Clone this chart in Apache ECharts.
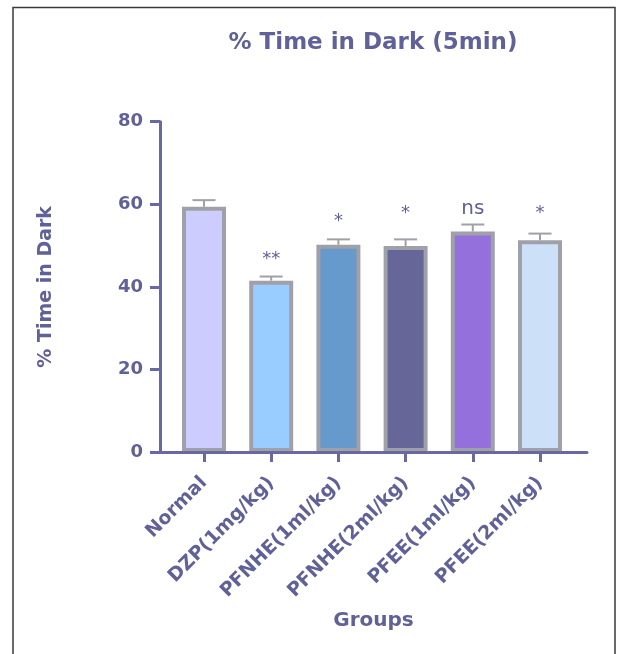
<!DOCTYPE html>
<html>
<head>
<meta charset="utf-8">
<script src="https://cdn.jsdelivr.net/npm/echarts@6/dist/echarts.min.js"></script>
<style>
html,body{margin:0;padding:0;background:#fff;}
#c{width:619px;height:654px;}
</style>
</head>
<body>
<div id="c"></div>
<script>
const categories = ['Normal', 'DZP(1mg/kg)', 'PFNHE(1ml/kg)', 'PFNHE(2ml/kg)', 'PFEE(1ml/kg)', 'PFEE(2ml/kg)'];
const means = [59.4, 41.5, 50.2, 49.9, 53.4, 51.3];
const sems = [1.6, 1.0, 1.3, 1.6, 1.7, 1.6];
const sigLabels = ['', '**', '*', '*', 'ns', '*'];
const sigHeights = [null, 47.8, 57.0, 58.9, 58.9, 58.9];
const barColors = ['#ccccff', '#99ccff', '#6699cc', '#666699', '#9370db', '#cce0f8'];
const yMin = 0, yMax = 80, yStep = 20;

const FONT = '"DejaVu Sans", sans-serif';
const TXT = '#616199';
const AX = '#6868a4';
const EDGE = '#a0a0a8';

const chart = echarts.init(document.getElementById('c'), null, {renderer: 'canvas'});

const gridTop = 121.7, gridBottom = 202;
const sigData = categories.map((c, i) => [i, sigHeights[i], sigLabels[i]]).filter(d => d[1] !== null);

const option = {
  backgroundColor: '#ffffff',
  animation: false,
  title: {
    text: '% Time in Dark (5min)',
    left: 368, top: 27, textAlign: 'center',
    textStyle: {fontFamily: FONT, fontSize: 23, fontWeight: 'bold', color: TXT}
  },
  graphic: [{
    type: 'rect', silent: true,
    shape: {x: 13, y: 7.5, width: 602, height: 700},
    style: {fill: 'none', stroke: '#3a3a3a', lineWidth: 1.5}
  }],
  grid: [
    {left: 170.4, right: 45.4, top: gridTop, bottom: gridBottom},
    {left: 160, right: 32, top: gridTop, bottom: gridBottom}
  ],
  xAxis: [
    {
      type: 'category', gridIndex: 0, data: categories,
      axisLine: {show: false},
      axisTick: {show: true, alignWithLabel: true, length: 10, lineStyle: {color: AX, width: 3}},
      axisLabel: {rotate: 45, margin: 28, fontFamily: FONT, fontSize: 19, fontWeight: 'bold', color: TXT, interval: 0},
      splitLine: {show: false}
    },
    {
      type: 'category', gridIndex: 1, data: [''], z: 10,
      axisLine: {show: true, onZero: false, lineStyle: {color: AX, width: 3}},
      axisTick: {show: false}, axisLabel: {show: false},
      name: 'Groups', nameLocation: 'middle', nameGap: 159,
      nameTextStyle: {fontFamily: FONT, fontSize: 20, fontWeight: 'bold', color: TXT}
    }
  ],
  yAxis: [
    {type: 'value', gridIndex: 0, min: yMin, max: yMax, interval: yStep, show: false},
    {
      type: 'value', gridIndex: 1, min: yMin, max: yMax, interval: yStep, z: 10,
      axisLine: {show: true, onZero: false, lineStyle: {color: AX, width: 3}},
      axisTick: {show: true, length: 10, lineStyle: {color: AX, width: 3}},
      axisLabel: {margin: 17, fontFamily: FONT, fontSize: 18, fontWeight: 'bold', color: TXT},
      splitLine: {show: false},
      name: '% Time in Dark', nameLocation: 'middle', nameGap: 104, nameRotate: 90,
      nameTextStyle: {fontFamily: FONT, fontSize: 19, fontWeight: 'bold', color: TXT}
    }
  ],
  series: [
    {
      type: 'custom', xAxisIndex: 0, yAxisIndex: 0, z: 1,
      data: categories.map((c, i) => [i, means[i], sems[i]]),
      encode: {x: 0, y: 1},
      renderItem: function (params, api) {
        const i = api.value(0), m = api.value(1), s = api.value(2);
        const b = api.coord([i, m]);
        const t = api.coord([i, m + s]);
        const hw = 11.5;
        return {
          type: 'group',
          children: [
            {type: 'line', shape: {x1: b[0], y1: b[1], x2: t[0], y2: t[1]}, style: {stroke: EDGE, lineWidth: 2}},
            {type: 'line', shape: {x1: t[0] - hw, y1: t[1], x2: t[0] + hw, y2: t[1]}, style: {stroke: EDGE, lineWidth: 2}}
          ]
        };
      }
    },
    {
      type: 'bar', xAxisIndex: 0, yAxisIndex: 0, z: 2,
      barWidth: 44,
      data: means.map((v, i) => ({value: v, itemStyle: {color: barColors[i]}})),
      itemStyle: {borderColor: EDGE, borderWidth: 4}
    },
    {
      type: 'custom', xAxisIndex: 0, yAxisIndex: 0, z: 3,
      data: sigData,
      encode: {x: 0, y: 1},
      renderItem: function (params, api) {
        const d = sigData[params.dataIndex];
        const p = api.coord([d[0], d[1]]);
        const isStar = d[2].indexOf('*') >= 0;
        return {
          type: 'text',
          x: p[0], y: isStar ? p[1] + 5 : p[1],
          style: {text: d[2], fill: TXT, font: (isStar ? '18px ' : '20px ') + FONT, align: 'center', verticalAlign: 'middle'}
        };
      }
    }
  ]
};
chart.setOption(option);
</script>
</body>
</html>
